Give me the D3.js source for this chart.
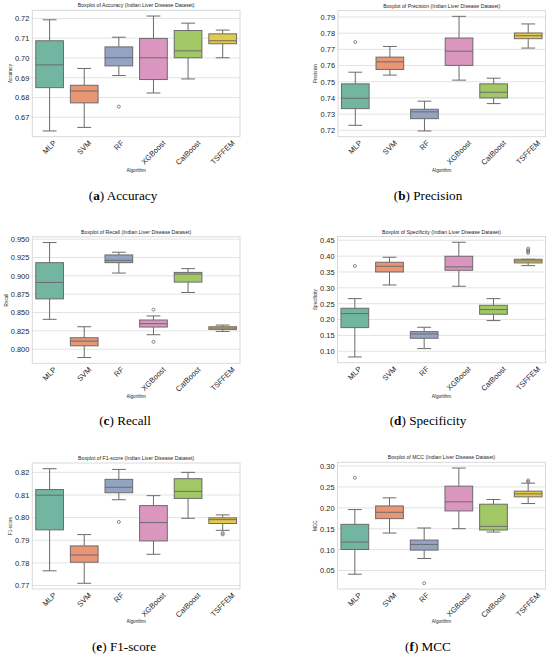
<!DOCTYPE html>
<html lang="en">
<head>
    <meta charset="UTF-8">
    <title>Boxplots - Indian Liver Disease Dataset</title>
    <script src="https://d3js.org/d3.v7.min.js"></script>
    <style>
        body { margin: 0; background: white; }
        svg { display: block; }
        text { font-family: "Liberation Sans", Arial, sans-serif; fill: #262626; }
        .caption { font-family: "Liberation Serif", "Times New Roman", serif; fill: #000; }
    </style>
</head>
<body>
    <svg id="svg"></svg>
    <script>
        const algorithms = ["MLP", "SVM", "RF", "XGBoost", "CatBoost", "TSFFEM"];
        const palette = ["#66c2a5", "#fc8d62", "#8da0cb", "#e78ac3", "#a6d854", "#ffd92f"];

        // each box: [lower whisker, Q1, median, Q3, upper whisker]
        const accuracyBox = [
            [0.6631, 0.6850, 0.6965, 0.7087, 0.7193],
            [0.6649, 0.6773, 0.6833, 0.6862, 0.6947],
            [0.6911, 0.6960, 0.7001, 0.7056, 0.7105],
            [0.6823, 0.6891, 0.7001, 0.7099, 0.7212],
            [0.6894, 0.7001, 0.7036, 0.7139, 0.7176],
            [0.7001, 0.7072, 0.7087, 0.7122, 0.7141]
        ];
        const accuracyOutliers = [[], [], [0.6754], [], [], []];
        const accuracyTicks = [0.67, 0.68, 0.69, 0.70, 0.71, 0.72];

        const precisionBox = [
            [0.7231, 0.7334, 0.7398, 0.7487, 0.7559],
            [0.7541, 0.7576, 0.7623, 0.7652, 0.7718],
            [0.7196, 0.7272, 0.7314, 0.7330, 0.7380],
            [0.7510, 0.7601, 0.7689, 0.7770, 0.7904],
            [0.7365, 0.7400, 0.7435, 0.7487, 0.7522],
            [0.7708, 0.7766, 0.7784, 0.7801, 0.7857]
        ];
        const precisionOutliers = [[0.7745], [], [], [], [], []];
        const precisionTicks = [0.72, 0.73, 0.74, 0.75, 0.76, 0.77, 0.78, 0.79];

        const recallBox = [
            [0.8407, 0.8686, 0.8910, 0.9180, 0.9454],
            [0.7886, 0.8046, 0.8110, 0.8156, 0.8306],
            [0.9038, 0.9180, 0.9212, 0.9285, 0.9322],
            [0.8197, 0.8302, 0.8348, 0.8398, 0.8453],
            [0.8773, 0.8915, 0.9024, 0.9047, 0.9098],
            [0.8242, 0.8270, 0.8288, 0.8306, 0.8329]
        ];
        const recallOutliers = [[], [], [], [0.8540, 0.8100], [], []];
        const recallTicks = [0.800, 0.825, 0.850, 0.875, 0.900, 0.925, 0.950];

        const specificityBox = [
            [0.0821, 0.1746, 0.2188, 0.2356, 0.2660],
            [0.3090, 0.3500, 0.3680, 0.3806, 0.3964],
            [0.1084, 0.1410, 0.1546, 0.1620, 0.1757],
            [0.3050, 0.3554, 0.3659, 0.3995, 0.4437],
            [0.1967, 0.2167, 0.2314, 0.2450, 0.2660],
            [0.3700, 0.3785, 0.3848, 0.3900, 0.3900]
        ];
        const specificityOutliers = [[0.369], [], [], [], [], [0.4237, 0.4185, 0.4143, 0.4100]];
        const specificityTicks = [0.10, 0.15, 0.20, 0.25, 0.30, 0.35, 0.40, 0.45];

        const f1Box = [
            [0.7765, 0.7946, 0.8099, 0.8124, 0.8216],
            [0.7710, 0.7803, 0.7835, 0.7875, 0.7925],
            [0.8079, 0.8110, 0.8134, 0.8169, 0.8213],
            [0.7838, 0.7897, 0.7978, 0.8053, 0.8097],
            [0.7997, 0.8085, 0.8116, 0.8172, 0.8200],
            [0.7944, 0.7974, 0.7991, 0.7999, 0.8012]
        ];
        const f1Outliers = [[], [], [0.7981], [], [], [0.7932, 0.7926]];
        const f1Ticks = [0.77, 0.78, 0.79, 0.80, 0.81, 0.82];

        const mccBox = [
            [0.0412, 0.1005, 0.1181, 0.1606, 0.1958],
            [0.1397, 0.1742, 0.1894, 0.2046, 0.2239],
            [0.0788, 0.0989, 0.1125, 0.1229, 0.1518],
            [0.1501, 0.1926, 0.2143, 0.2519, 0.2952],
            [0.1421, 0.1470, 0.1558, 0.2087, 0.2199],
            [0.2103, 0.2263, 0.2335, 0.2399, 0.2591]
        ];
        const mccOutliers = [[0.272], [], [0.0196], [], [], [0.2655, 0.2623]];
        const mccTicks = [0.05, 0.10, 0.15, 0.20, 0.25, 0.30];

        const panels = [
            {metric: "Accuracy", tag: "a", caption: "Accuracy", box: accuracyBox, outliers: accuracyOutliers, ticks: accuracyTicks, fmt: ".2f",
             left: 32.3, right: 240, top: 10.3, bottom: 136.7, ylabX: 10, xlabY: 172, capX: 123, capY: 200},
            {metric: "Precision", tag: "b", caption: "Precision", box: precisionBox, outliers: precisionOutliers, ticks: precisionTicks, fmt: ".2f",
             left: 338, right: 545.5, top: 10.6, bottom: 136.7, ylabX: 315, xlabY: 172, capX: 428, capY: 200},
            {metric: "Recall", tag: "c", caption: "Recall", box: recallBox, outliers: recallOutliers, ticks: recallTicks, fmt: ".3f",
             left: 32.3, right: 240, top: 236.8, bottom: 363.3, ylabX: 6, xlabY: 398.3, capX: 125, capY: 424.5},
            {metric: "Specificity", tag: "d", caption: "Specificity", box: specificityBox, outliers: specificityOutliers, ticks: specificityTicks, fmt: ".2f",
             left: 337.5, right: 545.5, top: 236.5, bottom: 362.7, ylabX: 315, xlabY: 397.7, capX: 428, capY: 424.5},
            {metric: "F1-score", tag: "e", caption: "F1-score", box: f1Box, outliers: f1Outliers, ticks: f1Ticks, fmt: ".2f",
             left: 32.3, right: 240, top: 463, bottom: 589, ylabX: 10, xlabY: 623.3, capX: 124, capY: 650.5},
            {metric: "MCC", tag: "f", caption: "MCC", box: mccBox, outliers: mccOutliers, ticks: mccTicks, fmt: ".2f",
             left: 337.5, right: 545.5, top: 462.3, bottom: 589, ylabX: 315, xlabY: 623.3, capX: 428, capY: 651}
        ];

        const width = 550;
        const height = 659;
        const lineColor = "#6b6b6b";
        const svg = d3.select("#svg").attr("width", width).attr("height", height);

        // seaborn-ish desaturation (saturation 0.75)
        function desat(c) {
            const h = d3.hsl(c);
            h.s *= 0.75;
            return h.formatHex();
        }

        function drawPanel(p) {
            const g = svg.append("g");
            const allVals = p.box.flat().concat(p.outliers.flat());
            const lo = d3.min(allVals), hi = d3.max(allVals);
            const pad = (hi - lo) * 0.05;

            const x = d3.scaleBand().domain(algorithms).range([p.left, p.right]).paddingInner(0).paddingOuter(0);
            const y = d3.scaleLinear().domain([lo - pad, hi + pad]).range([p.bottom, p.top]);

            // grid
            g.selectAll(".grid").data(p.ticks).enter().append("line")
                .attr("x1", p.left).attr("x2", p.right)
                .attr("y1", d => y(d)).attr("y2", d => y(d))
                .attr("stroke", "#e3e3e3").attr("stroke-width", 1);

            // frame
            g.append("rect")
                .attr("x", p.left).attr("y", p.top)
                .attr("width", p.right - p.left).attr("height", p.bottom - p.top)
                .attr("fill", "none").attr("stroke", "#d9d9d9").attr("stroke-width", 1);

            // y axis
            const yAxis = d3.axisLeft(y).tickValues(p.ticks).tickFormat(d3.format(p.fmt)).tickSize(0).tickPadding(3);
            const ya = g.append("g").attr("transform", "translate(" + p.left + ",0)").call(yAxis);
            ya.select(".domain").remove();
            ya.selectAll("text").style("font-size", "7.4px").attr("fill", "#262626")
                .style("font-family", "'Liberation Sans', Arial, sans-serif");

            const bw = x.bandwidth() * 0.8;
            const boxes = g.selectAll(".box").data(p.box).enter().append("g");
            const cx = (d, i) => x(algorithms[i]) + x.bandwidth() / 2;

            // whiskers
            boxes.append("line")
                .attr("x1", cx).attr("x2", cx)
                .attr("y1", d => y(d[0])).attr("y2", d => y(d[1]))
                .attr("stroke", lineColor).attr("stroke-width", 1);
            boxes.append("line")
                .attr("x1", cx).attr("x2", cx)
                .attr("y1", d => y(d[3])).attr("y2", d => y(d[4]))
                .attr("stroke", lineColor).attr("stroke-width", 1);
            // caps
            [0, 4].forEach(k => {
                boxes.append("line")
                    .attr("x1", (d, i) => cx(d, i) - bw / 4).attr("x2", (d, i) => cx(d, i) + bw / 4)
                    .attr("y1", d => y(d[k])).attr("y2", d => y(d[k]))
                    .attr("stroke", lineColor).attr("stroke-width", 1);
            });
            // box
            boxes.append("rect")
                .attr("x", (d, i) => cx(d, i) - bw / 2)
                .attr("width", bw)
                .attr("y", d => y(d[3]))
                .attr("height", d => Math.max(0.5, y(d[1]) - y(d[3])))
                .attr("fill", (d, i) => desat(palette[i]))
                .attr("stroke", lineColor).attr("stroke-width", 1);
            // median
            boxes.append("line")
                .attr("x1", (d, i) => cx(d, i) - bw / 2).attr("x2", (d, i) => cx(d, i) + bw / 2)
                .attr("y1", d => y(d[2])).attr("y2", d => y(d[2]))
                .attr("stroke", lineColor).attr("stroke-width", 1);

            // outliers
            p.outliers.forEach((arr, i) => {
                g.selectAll(null).data(arr).enter().append("circle")
                    .attr("cx", x(algorithms[i]) + x.bandwidth() / 2)
                    .attr("cy", d => y(d))
                    .attr("r", 1.5)
                    .attr("fill", "none")
                    .attr("stroke", lineColor).attr("stroke-width", 0.8);
            });

            // x tick labels, rotated 45 deg, centred under each box
            algorithms.forEach(a => {
                const t = g.append("text")
                    .text(a)
                    .style("font-size", "7.6px")
                    .attr("text-anchor", "middle")
                    .attr("dominant-baseline", "central");
                const w = t.node().getComputedTextLength();
                const h = 7.6 * 0.75;
                const half = (w + h) * Math.SQRT1_2 / 2;
                t.attr("transform", "translate(" + (x(a) + x.bandwidth() / 2) + "," + (p.bottom + 3 + half) + ") rotate(-45)");
            });

            // title
            g.append("text")
                .attr("x", (p.left + p.right) / 2).attr("y", p.top - 3)
                .attr("text-anchor", "middle")
                .style("font-size", "5.2px")
                .text("Boxplot of " + p.metric + " (Indian Liver Disease Dataset)");

            // axis labels
            g.append("text")
                .attr("x", (p.left + p.right) / 2).attr("y", p.xlabY)
                .attr("text-anchor", "middle")
                .style("font-size", "4.6px")
                .text("Algorithm");
            g.append("text")
                .attr("transform", "translate(" + p.ylabX + "," + (p.top + p.bottom) / 2 + ") rotate(-90)")
                .attr("text-anchor", "middle")
                .attr("dominant-baseline", "central")
                .style("font-size", "4.6px")
                .text(p.metric);

            // caption
            const cap = svg.append("text")
                .attr("class", "caption")
                .attr("x", p.capX).attr("y", p.capY)
                .attr("text-anchor", "middle")
                .style("font-size", "13.2px");
            cap.append("tspan").text("(");
            cap.append("tspan").style("font-weight", "bold").text(p.tag);
            cap.append("tspan").text(") " + p.caption);
        }

        panels.forEach(drawPanel);
    </script>
</body>
</html>
